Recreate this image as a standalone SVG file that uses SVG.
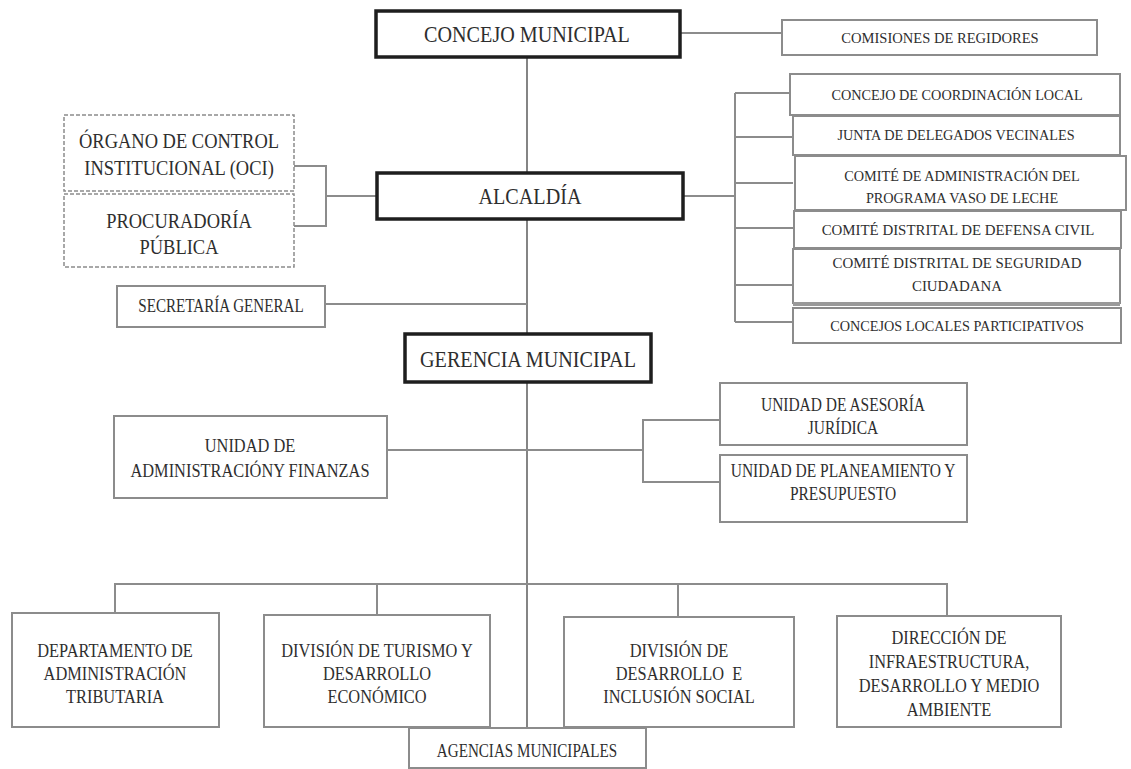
<svg xmlns="http://www.w3.org/2000/svg" width="1131" height="769" viewBox="0 0 1131 769">
<style>
.box{fill:#fff;stroke:#8c8c8c;stroke-width:2}
.main{fill:#fff;stroke:#1e1e1e;stroke-width:3.5}
.dash{fill:#fff;stroke:#8c8c8c;stroke-width:1.5;stroke-dasharray:4 2}
text{font-family:'Liberation Serif','DejaVu Serif',serif;fill:#2e2e2e;text-anchor:middle}
.c{stroke:#8c8c8c;stroke-width:2;fill:none}
.v{stroke:#333;stroke-width:1.2;fill:none}
.h1 text{font-size:24px}
.h2 text{font-size:22px}
.h3 text{font-size:19.5px}
.h4 text{font-size:18px}
.h5 text{font-size:15.5px}
</style>
<rect width="1131" height="769" fill="#fff"/>
<g id="connectors">
<line class="v" x1="527" y1="57" x2="527" y2="727"/>
<line class="c" x1="680" y1="33" x2="782" y2="33"/>
<polyline class="c" points="293,166 326,166 326,226 293,226"/>
<line class="c" x1="326" y1="196" x2="377" y2="196"/>
<line class="c" x1="683" y1="196" x2="735" y2="196"/>
<line class="c" x1="735" y1="93" x2="735" y2="322"/>
<line class="c" x1="735" y1="93" x2="790" y2="93"/>
<line class="c" x1="735" y1="137" x2="793" y2="137"/>
<line class="c" x1="735" y1="183" x2="793" y2="183"/>
<line class="c" x1="735" y1="228" x2="793" y2="228"/>
<line class="c" x1="735" y1="285" x2="793" y2="285"/>
<line class="c" x1="735" y1="322" x2="793" y2="322"/>
<line class="c" x1="325" y1="304" x2="527" y2="304"/>
<line class="c" x1="387" y1="450" x2="643" y2="450"/>
<polyline class="c" points="720,420 643,420 643,482 720,482"/>
<polyline class="c" points="115,613 115,584 947,584 947,616"/>
<line class="c" x1="377" y1="584" x2="377" y2="615"/>
<line class="c" x1="678" y1="584" x2="678" y2="617"/>
</g>
<g id="concejo-municipal"><rect class="main" x="376" y="11" width="304" height="46"/><g class="h1" transform="translate(527 0) scale(0.84 1)"><text x="0" y="42">CONCEJO MUNICIPAL</text></g></g>
<g id="comisiones"><rect class="box" x="782" y="20" width="315" height="35"/><g class="h5" transform="translate(940 0) scale(0.94 1)"><text x="0" y="43">COMISIONES DE REGIDORES</text></g></g>
<g id="oci"><rect class="dash" x="64" y="115" width="230" height="76"/><g class="h2" transform="translate(179 0) scale(0.84 1)"><text x="0" y="148">ÓRGANO DE CONTROL</text><text x="0" y="175">INSTITUCIONAL (OCI)</text></g></g>
<g id="procuraduria"><rect class="dash" x="64" y="194" width="230" height="73"/><g class="h2" transform="translate(179 0) scale(0.84 1)"><text x="0" y="228">PROCURADORÍA</text><text x="0" y="254">PÚBLICA</text></g></g>
<g id="alcaldia"><rect class="main" x="377" y="173" width="306" height="46"/><g class="h1" transform="translate(530 0) scale(0.84 1)"><text x="0" y="204">ALCALDÍA</text></g></g>
<g id="coordinacion-local"><rect class="box" x="790" y="74" width="330" height="41"/><g class="h5" transform="translate(957 0) scale(0.92 1)"><text x="0" y="100">CONCEJO DE COORDINACIÓN LOCAL</text></g></g>
<g id="junta-delegados"><rect class="box" x="793" y="116" width="327" height="39"/><g class="h5" transform="translate(956 0) scale(0.92 1)"><text x="0" y="140">JUNTA DE DELEGADOS VECINALES</text></g></g>
<g id="vaso-de-leche"><rect class="box" x="795" y="156" width="331" height="54"/><g class="h5" transform="translate(962 0) scale(0.92 1)"><text x="0" y="181">COMITÉ DE ADMINISTRACIÓN DEL</text><text x="0" y="203">PROGRAMA VASO DE LECHE</text></g></g>
<g id="defensa-civil"><rect class="box" x="794" y="211" width="327" height="37"/><g class="h5" transform="translate(958 0) scale(0.96 1)"><text x="0" y="235">COMITÉ DISTRITAL DE DEFENSA CIVIL</text></g></g>
<g id="seguridad-ciudadana"><rect class="box" x="793" y="249" width="327" height="54"/><line x1="793" y1="304" x2="1120" y2="304" stroke="#9a9a9a" stroke-width="4"/><g class="h5" transform="translate(957 0) scale(0.96 1)"><text x="0" y="268">COMITÉ DISTRITAL DE SEGURIDAD</text><text x="0" y="291">CIUDADANA</text></g></g>
<g id="concejos-locales"><rect class="box" x="793" y="308" width="328" height="35"/><g class="h5" transform="translate(957 0) scale(0.92 1)"><text x="0" y="331">CONCEJOS LOCALES PARTICIPATIVOS</text></g></g>
<g id="secretaria"><rect class="box" x="117" y="286" width="208" height="41"/><g class="h4" transform="translate(221 0) scale(0.84 1)"><text x="0" y="312">SECRETARÍA GENERAL</text></g></g>
<g id="gerencia"><rect class="main" x="405" y="334" width="246" height="48"/><g class="h1" transform="translate(528 0) scale(0.84 1)"><text x="0" y="367">GERENCIA MUNICIPAL</text></g></g>
<g id="administracion-finanzas"><rect class="box" x="114" y="416" width="273" height="82"/><g class="h3" transform="translate(250 0) scale(0.84 1)"><text x="0" y="452">UNIDAD DE</text><text x="0" y="477">ADMINISTRACIÓNY FINANZAS</text></g></g>
<g id="asesoria-juridica"><rect class="box" x="720" y="383" width="247" height="62"/><g class="h4" transform="translate(843 0) scale(0.86 1)"><text x="0" y="411">UNIDAD DE ASESORÍA</text><text x="0" y="434">JURÍDICA</text></g></g>
<g id="planeamiento"><rect class="box" x="720" y="455" width="247" height="67"/><g class="h4" transform="translate(843 0) scale(0.86 1)"><text x="0" y="477">UNIDAD DE PLANEAMIENTO Y</text><text x="0" y="500">PRESUPUESTO</text></g></g>
<g id="administracion-tributaria"><rect class="box" x="12" y="613" width="207" height="114"/><g class="h3" transform="translate(115 0) scale(0.84 1)"><text x="0" y="657">DEPARTAMENTO DE</text><text x="0" y="680">ADMINISTRACIÓN</text><text x="0" y="703">TRIBUTARIA</text></g></g>
<g id="turismo"><rect class="box" x="264" y="615" width="226" height="112"/><g class="h3" transform="translate(377 0) scale(0.84 1)"><text x="0" y="657">DIVISIÓN DE TURISMO Y</text><text x="0" y="680">DESARROLLO</text><text x="0" y="703">ECONÓMICO</text></g></g>
<g id="inclusion-social"><rect class="box" x="564" y="617" width="230" height="110"/><g class="h3" transform="translate(679 0) scale(0.84 1)"><text x="0" y="657">DIVISIÓN DE</text><text x="0" y="680" xml:space="preserve">DESARROLLO  E</text><text x="0" y="703">INCLUSIÓN SOCIAL</text></g></g>
<g id="infraestructura"><rect class="box" x="837" y="616" width="224" height="111"/><g class="h3" transform="translate(949 0) scale(0.84 1)"><text x="0" y="644">DIRECCIÓN DE</text><text x="0" y="668">INFRAESTRUCTURA,</text><text x="0" y="692">DESARROLLO Y MEDIO</text><text x="0" y="716">AMBIENTE</text></g></g>
<g id="agencias"><rect class="box" x="409" y="728" width="237" height="40"/><g class="h4" transform="translate(527 0) scale(0.84 1)"><text x="0" y="757">AGENCIAS MUNICIPALES</text></g></g>
</svg>
